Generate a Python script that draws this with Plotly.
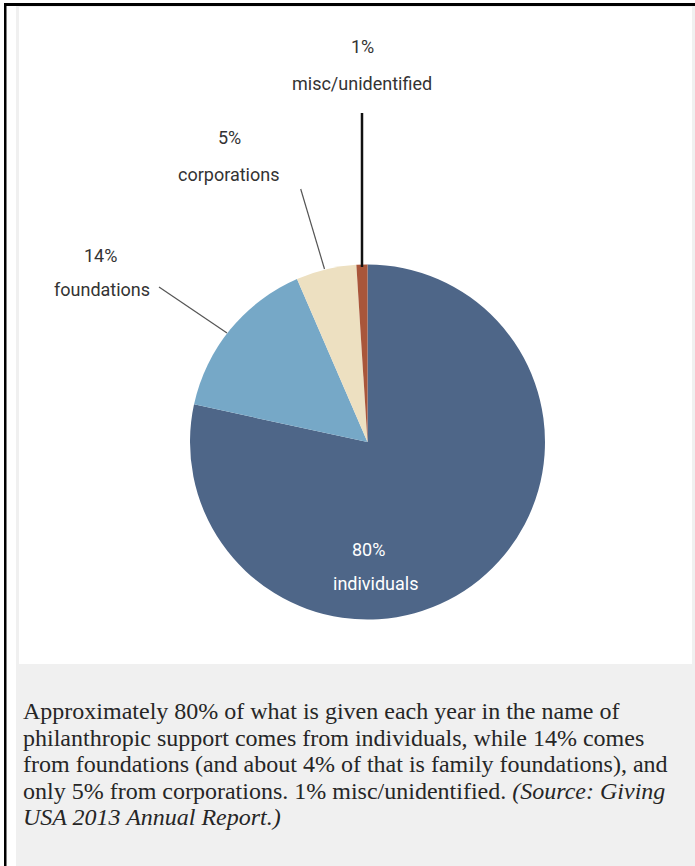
import plotly.graph_objects as go

# ---- data ----
categories = ["individuals", "foundations", "corporations", "misc/unidentified"]
values = [78.4, 15.1, 5.5, 1.0]
pct_labels = ["80%", "14%", "5%", "1%"]
colors = ["#4e6688", "#76a8c7", "#ede0c1", "#a9563a"]

caption_lines = [
    "Approximately 80% of what is given each year in the name of",
    "philanthropic support comes from individuals, while 14% comes",
    "from foundations (and about 4% of that is family foundations), and",
    "only 5% from corporations. 1% misc/unidentified. <i>(Source: Giving</i>",
    "<i>USA 2013 Annual Report.)</i>",
]

W, H = 695, 866
def px(x): return x / W
def py(y): return 1 - y / H

fig = go.Figure()
cx, cy, r = 367.5, 442, 177.5
fig.add_trace(go.Pie(
    labels=categories, values=values, sort=False, direction="clockwise",
    rotation=0, marker=dict(colors=colors, line=dict(width=0)),
    textinfo="none", hoverinfo="label+percent", showlegend=False,
    domain=dict(x=[px(cx - r), px(cx + r)], y=[py(cy + r), py(cy - r)]),
))

shapes = []
# background panels
shapes.append(dict(type="rect", xref="paper", yref="paper", x0=px(16), x1=px(695), y0=py(866), y1=py(6),
                   fillcolor="#f0f0f0", line=dict(width=0), layer="below"))
shapes.append(dict(type="rect", xref="paper", yref="paper", x0=px(19), x1=px(692), y0=py(664), y1=py(7),
                   fillcolor="#ffffff", line=dict(width=0), layer="below"))
# black frame lines
shapes.append(dict(type="rect", xref="paper", yref="paper", x0=px(4), x1=px(695), y0=py(6), y1=py(3),
                   fillcolor="#000000", line=dict(width=0), layer="below"))
shapes.append(dict(type="rect", xref="paper", yref="paper", x0=px(4), x1=px(6.5), y0=py(866), y1=py(3),
                   fillcolor="#000000", line=dict(width=0), layer="below"))
# leader lines
shapes.append(dict(type="line", xref="paper", yref="paper", x0=px(362), x1=px(362), y0=py(113), y1=py(267),
                   line=dict(color="#111111", width=2.5), layer="above"))
shapes.append(dict(type="line", xref="paper", yref="paper", x0=px(300.7), x1=px(324.5), y0=py(189), y1=py(269),
                   line=dict(color="#555555", width=1.2), layer="above"))
shapes.append(dict(type="line", xref="paper", yref="paper", x0=px(159), x1=px(227), y0=py(287), y1=py(333),
                   line=dict(color="#555555", width=1.2), layer="above"))

lab_font = "Roboto, Liberation Sans Narrow, sans-serif"
annots = []
label_pos = {
    "individuals": ((368, 549), (375, 583), "#ffffff"),
    "foundations": ((100, 255), (102, 289), "#333333"),
    "corporations": ((229, 138), (228, 175), "#333333"),
    "misc/unidentified": ((362, 47), (362, 84), "#333333"),
}
for cat, pct in zip(categories, pct_labels):
    (x1, y1), (x2, y2), col = label_pos[cat]
    annots.append(dict(x=px(x1), y=py(y1), xref="paper", yref="paper", text=pct, showarrow=False,
                       font=dict(family=lab_font, size=18, color=col), xanchor="center", yanchor="middle"))
    annots.append(dict(x=px(x2), y=py(y2), xref="paper", yref="paper", text=cat, showarrow=False,
                       font=dict(family=lab_font, size=18, color=col), xanchor="center", yanchor="middle"))

line_y = [711, 738, 764, 791, 817]
for t, yy in zip(caption_lines, line_y):
    annots.append(dict(x=px(21), y=py(yy), xref="paper", yref="paper", text=t, showarrow=False,
                       align="left", xanchor="left", yanchor="middle",
                       font=dict(family="Liberation Serif, Times New Roman, serif", size=24, color="#262626")))

fig.update_layout(width=W, height=H, margin=dict(l=0, r=0, t=0, b=0),
                  paper_bgcolor="#ffffff", plot_bgcolor="#ffffff",
                  shapes=shapes, annotations=annots)
fig.write_html("out.html", config={"displayModeBar": False},
               post_script="document.body.style.margin='0';")
